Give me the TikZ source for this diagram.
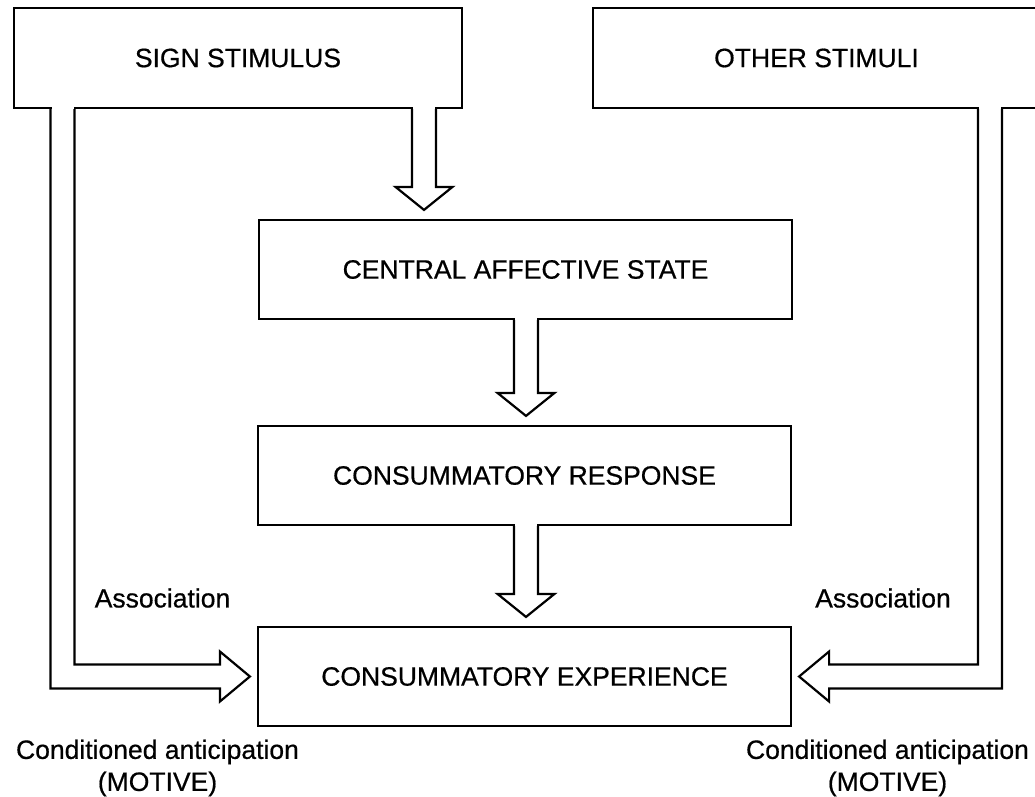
\documentclass[tikz,border=0pt]{standalone}
\usepackage{fontspec}
\setmainfont{Liberation Sans}
\newfontfamily\heavy{Liberation Sans}[FakeBold=0.6]
\usetikzlibrary{calc}

% Hollow downward arrow whose tail opens into the box above it.
% #1 = tail point on the source's lower edge, #2 = point on the target's upper edge
\newcommand\fatdown[2]{%
  \fill[white] ($(#1)+(-11,-3)$) rectangle ($(#1)+(11,2)$);
  \draw[outline] ($(#1)+(-12,0)$) -- ($(#2)+(-12,-32)$) -- ($(#2)+(-28.5,-32)$)
    -- ($(#2)+(0,-9)$) -- ($(#2)+(28.5,-32)$) -- ($(#2)+(12,-32)$) -- ($(#1)+(12,0)$);
}

% Hollow bent arrow: down from a box, then sideways into a box.
% #1 = tail point (named coordinate), #2 = point on target side, #3 = 1 (rightwards) or -1 (leftwards)
\newcommand\fatbend[3]{%
  \pgfmathsetmacro\dsw{12*#3}%
  \pgfmathsetmacro\dhb{37*#3}%
  \pgfmathsetmacro\dtp{7*#3}%
  \fill[white] ($(#1)+(-11,-3)$) rectangle ($(#1)+(11,2)$);
  \draw[outline] ($(#1)+(-\dsw,0)$) -- ($(#1 |- #2)+(-\dsw,12)$)
    -- ($(#2)+(-\dhb,12)$) -- ($(#2)+(-\dhb,25)$) -- ($(#2)+(-\dtp,0)$)
    -- ($(#2)+(-\dhb,-25)$) -- ($(#2)+(-\dhb,-12)$)
    -- ($(#1 |- #2)+(\dsw,-12)$) -- ($(#1)+(\dsw,0)$);
}

\begin{document}
\begin{tikzpicture}[x=1pt,y=-1pt,
  box/.style={draw, line width=2.2pt, rectangle, inner sep=0pt,
    font=\heavy\fontsize{26.5}{32}\selectfont},
  outline/.style={draw, line width=2.2pt, line join=miter},
  lbl/.style={font=\heavy\fontsize{26.5}{32}\selectfont, align=center, inner sep=0pt}]

\useasboundingbox (0,0) rectangle (1035,796);
\clip (0,0) rectangle (1035,796);

% boxes
\node[box, minimum width=448pt, minimum height=100pt] (s) at (238,58) {SIGN STIMULUS};
\node[box, minimum width=447pt, minimum height=100pt] (o) at (816.5,58) {OTHER STIMULI};
\node[box, minimum width=533pt, minimum height=99pt] (c) at (525.5,269.5) {CENTRAL AFFECTIVE STATE};
\node[box, minimum width=533pt, minimum height=99pt] (r) at (524.5,475.5) {CONSUMMATORY RESPONSE};
\node[box, minimum width=533pt, minimum height=99pt] (e) at (524.5,676.5) {CONSUMMATORY EXPERIENCE};

% arrow axes
\coordinate (ax) at (424,0);
\coordinate (mx) at (526,0);
\coordinate (lx) at (62.5,0);
\coordinate (rx) at (990,0);
\coordinate (lt) at (s.south -| lx);
\coordinate (rt) at (o.south -| rx);

% connectors
\fatdown{s.south -| ax}{c.north -| ax}
\fatdown{c.south -| mx}{r.north -| mx}
\fatdown{r.south -| mx}{e.north -| mx}
\fatbend{lt}{e.west}{1}
\fatbend{rt}{e.east}{-1}

% labels
\node[lbl] (al) at (162.5,598) {Association};
\node[lbl] (ar) at (883,598) {Association};
\node[lbl] (cl) at (157.5,768) {Conditioned anticipation\\(MOTIVE)};
\node[lbl] (cr) at (887.5,768) {Conditioned anticipation\\(MOTIVE)};
\end{tikzpicture}
\end{document}
